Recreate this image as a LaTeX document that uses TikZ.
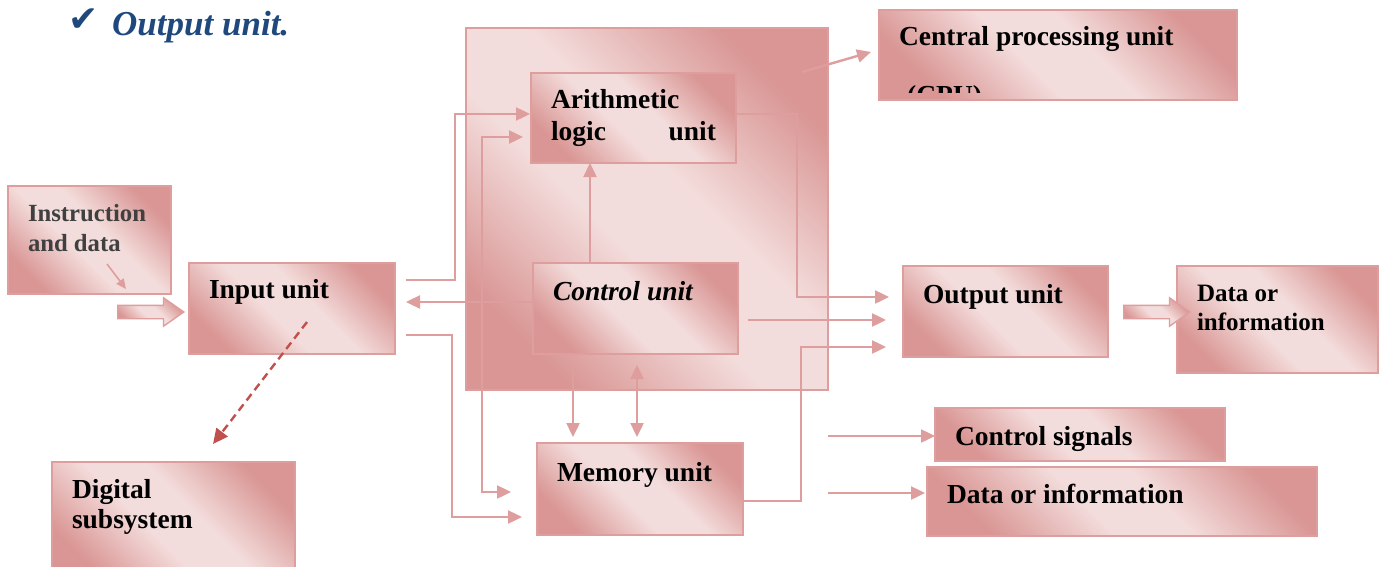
\documentclass[tikz,border=0pt]{standalone}
\usepackage{fontspec}
\setmainfont{Liberation Serif}
\newfontfamily\tickfont{DejaVu Sans}
\usepackage{xcolor}
\usetikzlibrary{positioning,calc,arrows.meta,shapes.arrows}

\definecolor{pinkdark}{RGB}{217,150,148}
\definecolor{pinklight}{RGB}{243,221,220}
\definecolor{boxline}{RGB}{222,158,157}
\definecolor{headblue}{RGB}{31,73,125}
\definecolor{dashred}{RGB}{192,80,77}
\definecolor{softgray}{RGB}{64,64,64}
\pgfdeclareverticalshading{pinkglow}{100bp}{color(0bp)=(pinkdark); color(25bp)=(pinkdark); color(44bp)=(pinklight); color(56bp)=(pinklight); color(75bp)=(pinkdark); color(100bp)=(pinkdark)}

\begin{document}
\begin{tikzpicture}[x=1pt, y=-1pt, >={Triangle[length=14pt,width=13pt]}]
    \tikzstyle{unit box} = [draw=boxline, line width=1.8pt, outer sep=0pt, shading=pinkglow, shading angle=-45, anchor=north west, align=flush left, inner xsep=20pt, inner ysep=0pt, text height=36pt, font=\fontsize{27.5}{31.5}\selectfont\bfseries]
    \tikzstyle{link} = [draw=boxline, line width=2.4pt]
    \tikzstyle{fat arrow} = [single arrow, draw=boxline, line width=1.4pt, shading=pinkglow, shading angle=-45, inner sep=0pt, text height=12pt, text depth=0pt, single arrow head extend=7.5pt, single arrow tip angle=70, minimum height=66pt]
    \useasboundingbox (0,0) rectangle (1383,567);
    \clip (0,0) rectangle (1383,567);

    % heading
    \node[anchor=base west, inner sep=0pt, text=headblue, font=\tickfont\fontsize{36}{38}\selectfont] (tick) at (68,32) {✔};
    \node[anchor=base west, inner sep=0pt, text=headblue, font=\fontsize{35}{40}\selectfont\bfseries\itshape] (heading) at (112,36) {Output unit.};

    % processor and units
    \node[unit box, minimum width=362pt, minimum height=362pt, text height=0pt, text depth=0pt, inner sep=0pt] (bigcpu) at (466,28) {};
    \node[unit box, text width=318pt, text depth=54pt] (cpu) at (879,10) {Central processing unit};
    \begin{scope}
        \clip (cpu.north west) rectangle ($(cpu.south east)+(0,-7)$);
        \node[anchor=base west, inner sep=0pt, font=\fontsize{27.5}{31.5}\selectfont\bfseries] (cpuabbr) at (907,105) {(CPU)};
    \end{scope}
    \node[unit box, text width=165pt, text depth=54pt] (alu) at (531,73) {Arithmetic\\logic\hfill unit};
    \node[unit box, text width=165pt, text depth=54pt, text height=37pt] (ctrl) at (533,263) {\textit{Control unit}};
    \node[unit box, text width=166pt, text depth=56pt, text height=35pt] (input) at (189,263) {Input unit};
    \node[unit box, text width=123pt, text depth=73pt, text height=35pt, text=softgray, font=\fontsize{24.7}{30}\selectfont\bfseries] (instr) at (8,186) {Instruction\\and data};
    \node[unit box, text width=165pt, text depth=54pt, text height=37pt] (output) at (903,266) {Output unit};
    \node[unit box, text width=161pt, text depth=72pt, text height=35pt, font=\fontsize{25}{29}\selectfont\bfseries] (datar) at (1177,266) {Data or\\information};
    \node[unit box, text width=203pt, text depth=84pt, font=\fontsize{27.5}{30}\selectfont\bfseries] (digital) at (52,462) {Digital\\subsystem};
    \node[unit box, text width=166pt, text depth=54pt, text height=38pt] (memory) at (537,443) {Memory unit};
    \node[unit box, text width=250pt, text depth=16pt, text height=37pt] (csig) at (935,408) {Control signals};
    \node[unit box, text width=350pt, text depth=33pt] (datab) at (927,467) {Data or information};

    % fat arrows
    \node[fat arrow] (feedin) at (146,312) {};
    \node[fat arrow] (feedout) at (1152,312) {};

    % free ends
    \coordinate (sigsrc) at (828,436);
    \coordinate (datasrc) at (828,493);

    % connectors
    \draw[link, -{Triangle[length=10pt,width=9pt]}, line width=1.6pt] ($(instr.south west)+(99,-30)$) -- ($(instr.south west)+(118,-5)$);
    \draw[link, ->] ($(input.north east)+(11,17)$) -| (455,114) -- ($(alu.north west)+(-1,41)$);
    \draw[link, ->] ($(ctrl.north west)+(0,39)$) -- ($(input.north east)+(11,39)$);
    \draw[link, ->] ($(input.south east)+(11,-19)$) -| (452,517) -- ($(memory.south west)+(-15,-18)$);
    \draw[link, <->] ($(alu.north west)+(-8,64)$) -| (482,492) -- ($(memory.north west)+(-26,49)$);
    \draw[link, ->] ($(ctrl.north west)+(57,0)$) -- ($(alu.south west)+(59,0)$);
    \draw[link, ->] ($(ctrl.south west)+(40,11)$) -- ($(memory.north west)+(36,-6)$);
    \draw[link, <->] ($(ctrl.south west)+(104,11)$) -- ($(memory.north west)+(100,-6)$);
    \draw[link, ->] ($(alu.north east)+(0,41)$) -| (797,297) -- ($(output.north west)+(-14,31)$);
    \draw[link, ->] ($(ctrl.south east)+(10,-34)$) -- ($(output.north west)+(-17,54)$);
    \draw[link, ->] ($(memory.north east)+(0,58)$) -| (801,347) -- ($(output.north west)+(-17,81)$);
    \draw[link, ->] ($(bigcpu.north east)+(-26,44)$) -- ($(cpu.north west)+(-8,42)$);
    \draw[link, ->] (sigsrc) -- (sigsrc -| csig.west);
    \draw[link, ->] (datasrc) -- ($(datasrc -| datab.west)+(-2,0)$);
    \draw[draw=dashred, line width=2.4pt, dash pattern=on 8pt off 5pt, -{Triangle[length=15pt,width=14pt]}] ($(input.south west)+(118,-32)$) -- ($(digital.north west)+(161,-18)$);
\end{tikzpicture}
\end{document}
